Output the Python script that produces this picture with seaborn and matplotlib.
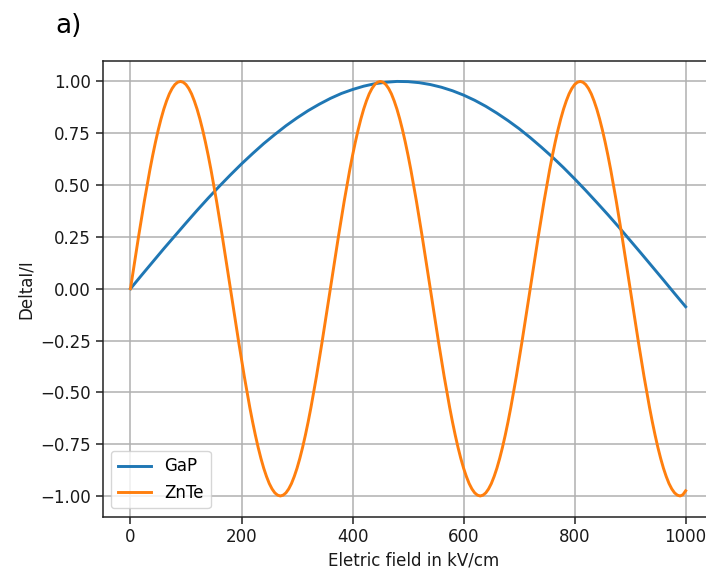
import matplotlib
matplotlib.use("Agg")
import matplotlib.pyplot as plt
import seaborn as sns
import pandas as pd

# ---- data ----
gap_x = [0, 20, 40, 60, 80, 100, 120, 140, 160, 180, 200, 220, 240, 260, 280,
         300, 320, 340, 360, 380, 400, 420, 440, 460, 480, 500, 520, 540, 560,
         580, 600, 620, 640, 660, 680, 700, 720, 740, 760, 780, 800, 820, 840,
         860, 880, 900, 920, 940, 960, 980, 1000]
gap_y = [0.000, 0.065, 0.129, 0.193, 0.255, 0.317, 0.378, 0.437, 0.494, 0.549,
         0.602, 0.652, 0.700, 0.744, 0.786, 0.824, 0.859, 0.890, 0.918, 0.942,
         0.961, 0.977, 0.989, 0.996, 1.000, 0.999, 0.994, 0.985, 0.972, 0.955,
         0.934, 0.909, 0.880, 0.847, 0.811, 0.772, 0.729, 0.683, 0.635, 0.584,
         0.530, 0.474, 0.416, 0.357, 0.296, 0.233, 0.170, 0.106, 0.042, -0.023,
         -0.087]

znte_x = list(range(0, 1001, 5))
znte_y = [
    # 0 - 180
    0.000, 0.087, 0.174, 0.259, 0.342, 0.423, 0.500, 0.574, 0.643, 0.707,
    0.766, 0.819, 0.866, 0.906, 0.940, 0.966, 0.985, 0.996, 1.000,
    0.996, 0.985, 0.966, 0.940, 0.906, 0.866, 0.819, 0.766, 0.707, 0.643,
    0.574, 0.500, 0.423, 0.342, 0.259, 0.174, 0.087, 0.000,
    # 185 - 360
    -0.087, -0.174, -0.259, -0.342, -0.423, -0.500, -0.574, -0.643, -0.707,
    -0.766, -0.819, -0.866, -0.906, -0.940, -0.966, -0.985, -0.996, -1.000,
    -0.996, -0.985, -0.966, -0.940, -0.906, -0.866, -0.819, -0.766, -0.707,
    -0.643, -0.574, -0.500, -0.423, -0.342, -0.259, -0.174, -0.087, 0.000,
    # 365 - 540
    0.087, 0.174, 0.259, 0.342, 0.423, 0.500, 0.574, 0.643, 0.707,
    0.766, 0.819, 0.866, 0.906, 0.940, 0.966, 0.985, 0.996, 1.000,
    0.996, 0.985, 0.966, 0.940, 0.906, 0.866, 0.819, 0.766, 0.707, 0.643,
    0.574, 0.500, 0.423, 0.342, 0.259, 0.174, 0.087, 0.000,
    # 545 - 720
    -0.087, -0.174, -0.259, -0.342, -0.423, -0.500, -0.574, -0.643, -0.707,
    -0.766, -0.819, -0.866, -0.906, -0.940, -0.966, -0.985, -0.996, -1.000,
    -0.996, -0.985, -0.966, -0.940, -0.906, -0.866, -0.819, -0.766, -0.707,
    -0.643, -0.574, -0.500, -0.423, -0.342, -0.259, -0.174, -0.087, 0.000,
    # 725 - 900
    0.087, 0.174, 0.259, 0.342, 0.423, 0.500, 0.574, 0.643, 0.707,
    0.766, 0.819, 0.866, 0.906, 0.940, 0.966, 0.985, 0.996, 1.000,
    0.996, 0.985, 0.966, 0.940, 0.906, 0.866, 0.819, 0.766, 0.707, 0.643,
    0.574, 0.500, 0.423, 0.342, 0.259, 0.174, 0.087, 0.000,
    # 905 - 1000
    -0.087, -0.174, -0.259, -0.342, -0.423, -0.500, -0.574, -0.643, -0.707,
    -0.766, -0.819, -0.866, -0.906, -0.940, -0.966, -0.985, -0.996, -1.000,
    -0.994, -0.975,
]

series_names = ["GaP", "ZnTe"]
colors = ["#1f77b4", "#ff7f0e"]
x_ticks = [0, 200, 400, 600, 800, 1000]
y_ticks = [-1.00, -0.75, -0.50, -0.25, 0.00, 0.25, 0.50, 0.75, 1.00]

df = pd.concat([
    pd.DataFrame({"x": gap_x, "y": gap_y, "material": series_names[0]}),
    pd.DataFrame({"x": znte_x, "y": znte_y, "material": series_names[1]}),
], ignore_index=True)

plt.rcParams.update({
    "font.family": ["DejaVu Sans"],
    "axes.linewidth": 1.1,
    "xtick.major.width": 1.1,
    "ytick.major.width": 1.1,
    "xtick.major.size": 4.9,
    "ytick.major.size": 4.9,
    "xtick.labelsize": 12,
    "ytick.labelsize": 12,
})

fig = plt.figure(figsize=(7.06, 5.71), dpi=100)
ax = fig.add_axes([0.1455, 0.0951, 0.88, 0.7986])

sns.lineplot(data=df, x="x", y="y", hue="material", hue_order=series_names,
             palette=colors, linewidth=2.1, ax=ax, estimator=None, sort=True)

ax.set_xlim(-50, 1050 + 1100 * (0.88 - 0.865) / 0.865)
ax.set_ylim(-1.1, 1.1)
ax.set_xticks(x_ticks)
ax.set_yticks(y_ticks)
ax.set_yticklabels([f"{v:.2f}".replace("-", "\u2212") for v in y_ticks])
ax.grid(True, color="#b0b0b0", linewidth=1.1)
ax.set_axisbelow(True)
for s in ax.spines.values():
    s.set_color("#222222")
ax.spines["right"].set_visible(False)
ax.tick_params(colors="#222222", labelcolor="#1a1a1a")

ax.set_xlabel("Eletric field in kV/cm", fontsize=12, color="#1a1a1a")
ax.set_ylabel("DeltaI/I", fontsize=12, color="#1a1a1a")

handles, labels = ax.get_legend_handles_labels()
ax.legend(handles, labels, loc="lower left", fontsize=12, title=None,
          handlelength=2.0)

fig.text(0.078, 0.955, "a)", fontsize=19, va="center", ha="left")

fig.savefig("out.png", dpi=100)
